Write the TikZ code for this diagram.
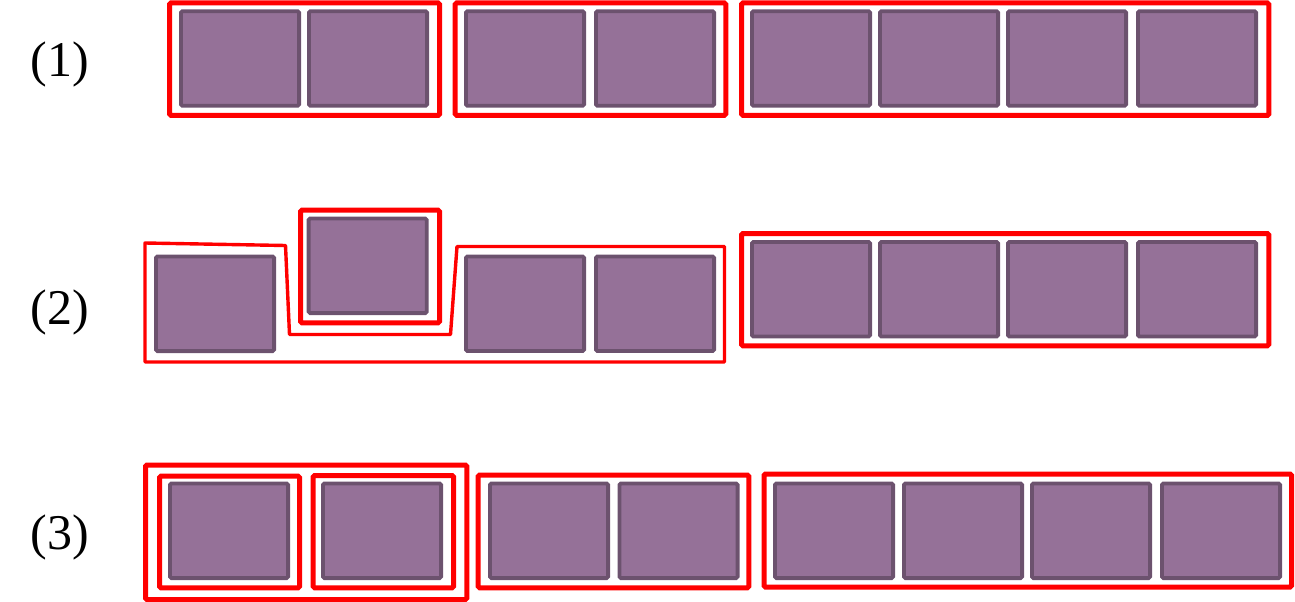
\documentclass[tikz,border=0pt]{standalone}
\usepackage{fontspec}
\setmainfont{Liberation Serif}
\definecolor{pfill}{HTML}{957198}
\definecolor{pline}{HTML}{6C526E}
\definecolor{rline}{HTML}{FF0000}
\begin{document}
\begin{tikzpicture}[x=1pt,y=-1pt,
  pbox/.style={draw=pline,fill=pfill,line width=3.8pt,rounded corners=1.5pt,
    inner sep=0pt,minimum width=118.2pt,minimum height=94.6pt},
  redbox/.style={draw=rline,line width=5pt,rounded corners=1.5pt},
  redpoly/.style={draw=rline,line width=3.4pt,line join=round},
  lbl/.style={inner sep=0pt,font=\fontsize{50}{60}\selectfont}]
\useasboundingbox (0,0) rectangle (1295,602);
% labels
\node[lbl] (l1) at (60,64.5) {(1)};
\node[lbl] (l2) at (60,312) {(2)};
\node[lbl] (l3) at (60,537) {(3)};
% row 1
\foreach \x [count=\i] in {240,368,525,655,811,939,1067,1197}
  \node[pbox] (a\i) at (\x,58.5) {};
\draw[redbox] (169.5,3) rectangle (439.7,115.4);
\draw[redbox] (455.2,3) rectangle (725.8,115.4);
\draw[redbox] (741.5,3) rectangle (1268.8,115.4);
% row 2
\node[pbox] (b1) at (215,303.8) {};
\node[pbox] (b2) at (367.7,265.8) {};
\node[pbox] (b3) at (525,303.7) {};
\node[pbox] (b4) at (655,303.7) {};
\foreach \x [count=\i from 5] in {811,939,1067,1197}
  \node[pbox] (b\i) at (\x,289.2) {};
\draw[redbox] (300.5,210.2) rectangle (439.5,322.8);
\draw[redbox] (741.5,233.5) rectangle (1268.8,345.8);
\draw[redpoly] (145,243) -- (285.5,245.5) -- (289.5,334.5) -- (450.5,334.5)
  -- (457,246.5) -- (724.5,246.5) -- (724.5,362) -- (145,362) -- cycle;
% row 3
\foreach \x [count=\i] in {229,382,549,678.5,834,963,1091,1221}
  \node[pbox] (c\i) at (\x,530.8) {};
\draw[redbox] (145.5,465) rectangle (466.8,599.5);
\draw[redbox] (159.5,476.2) rectangle (299.5,587.8);
\draw[redbox] (313.2,475.5) rectangle (453.5,587.8);
\draw[redbox] (478.2,475) rectangle (748.8,587.8);
\draw[redbox] (764,474) rectangle (1291.5,587);
\end{tikzpicture}
\end{document}
